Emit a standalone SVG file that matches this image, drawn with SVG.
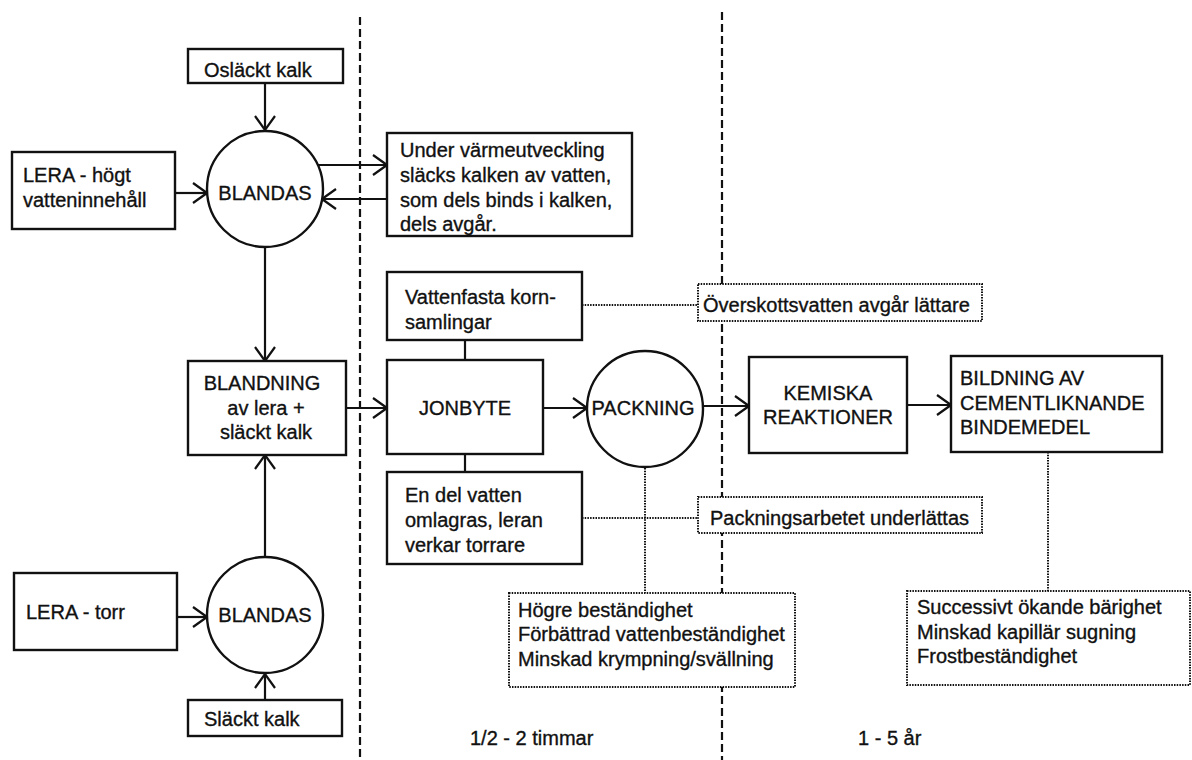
<svg xmlns="http://www.w3.org/2000/svg" width="1192" height="760" viewBox="0 0 1192 760">
<style>
text{font-family:"Liberation Sans",Arial,sans-serif;font-size:20px;fill:#111;stroke:#111;stroke-width:0.35}
.box{fill:#fff;stroke:#111;stroke-width:2.4}
.dbox{fill:#fff;stroke:#111;stroke-width:2;stroke-dasharray:1.5 1.2}
.ln{fill:none;stroke:#111;stroke-width:2.2}
.arr{fill:none;stroke:#111;stroke-width:2.2;marker-end:url(#ah)}
.dot{fill:none;stroke:#111;stroke-width:2;stroke-dasharray:1.5 1.2}
.div{fill:none;stroke:#111;stroke-width:2.2;stroke-dasharray:8 4}
.c{text-anchor:middle}
</style>
<defs>
<marker id="ah" markerUnits="userSpaceOnUse" viewBox="0 0 16 22" refX="15" refY="11" markerWidth="16" markerHeight="22" orient="auto">
<path d="M1,1 L15,11 L1,21" fill="none" stroke="#111" stroke-width="2.2"/>
</marker>
</defs>
<rect width="1192" height="760" fill="#fff"/>
<g id="dividers">
<line class="div" x1="360" y1="17" x2="360" y2="760"/>
<line class="div" x1="722" y1="12" x2="722" y2="760"/>
</g>
<g id="connectors">
<line class="arr" x1="265" y1="83" x2="265" y2="130"/>
<line class="arr" x1="175" y1="193" x2="207" y2="193"/>
<line class="arr" x1="318" y1="165" x2="387" y2="165"/>
<line class="arr" x1="387" y1="199" x2="322" y2="199"/>
<line class="arr" x1="265" y1="247" x2="265" y2="361"/>
<line class="arr" x1="265" y1="556" x2="265" y2="455"/>
<line class="arr" x1="177" y1="617" x2="207" y2="617"/>
<line class="arr" x1="265" y1="700" x2="265" y2="674"/>
<line class="arr" x1="346" y1="408" x2="387" y2="408"/>
<line class="arr" x1="543" y1="408" x2="587" y2="408"/>
<line class="arr" x1="703" y1="406" x2="749" y2="406"/>
<line class="arr" x1="907" y1="405" x2="951" y2="405"/>
<line class="ln" x1="465" y1="340" x2="465" y2="360"/>
<line class="ln" x1="465" y1="454" x2="465" y2="472"/>
<line class="dot" x1="582" y1="305" x2="698" y2="305"/>
<line class="dot" x1="582" y1="518" x2="698" y2="518"/>
<line class="dot" x1="645" y1="468" x2="645" y2="593"/>
<line class="dot" x1="1048" y1="452" x2="1048" y2="591"/>
</g>
<g id="oslackt"><rect class="box" x="188" y="49" width="155" height="34"/><text x="204" y="77">Osläckt kalk</text></g>
<g id="lera-hogt"><rect class="box" x="12" y="152" width="163" height="77"/><text x="23" y="182">LERA - högt</text><text x="23" y="207">vatteninnehåll</text></g>
<g id="blandas1"><circle class="box" cx="265" cy="189" r="58"/><text class="c" x="265" y="200">BLANDAS</text></g>
<g id="under"><rect class="box" x="387" y="133" width="245" height="103"/><text x="400" y="157">Under värmeutveckling</text><text x="400" y="182">släcks kalken av vatten,</text><text x="400" y="207">som dels binds i kalken,</text><text x="400" y="231">dels avgår.</text></g>
<g id="vattenfasta"><rect class="box" x="387" y="272" width="195" height="68"/><text x="405" y="304">Vattenfasta korn-</text><text x="405" y="329">samlingar</text></g>
<g id="overskott"><rect class="dbox" x="698" y="284" width="284" height="37"/><text x="703" y="312">Överskottsvatten avgår lättare</text></g>
<g id="blandning"><rect class="box" x="188" y="361" width="158" height="94"/><text class="c" x="262" y="390">BLANDNING</text><text class="c" x="266" y="415">av lera +</text><text class="c" x="266" y="439">släckt kalk</text></g>
<g id="jonbyte"><rect class="box" x="387" y="360" width="156" height="94"/><text class="c" x="465" y="415">JONBYTE</text></g>
<g id="packning"><circle class="box" cx="645" cy="409" r="58"/><text class="c" x="643" y="415">PACKNING</text></g>
<g id="kemiska"><rect class="box" x="749" y="357" width="158" height="96"/><text class="c" x="828" y="400">KEMISKA</text><text class="c" x="828" y="424">REAKTIONER</text></g>
<g id="bildning"><rect class="box" x="951" y="356" width="211" height="96"/><text x="960" y="385">BILDNING AV</text><text x="960" y="410">CEMENTLIKNANDE</text><text x="960" y="434">BINDEMEDEL</text></g>
<g id="endel"><rect class="box" x="387" y="472" width="195" height="92"/><text x="405" y="502">En del vatten</text><text x="405" y="527">omlagras, leran</text><text x="405" y="552">verkar torrare</text></g>
<g id="packningsarbetet"><rect class="dbox" x="698" y="497" width="284" height="36"/><text x="710" y="525">Packningsarbetet underlättas</text></g>
<g id="hogre"><rect class="dbox" x="509" y="593" width="286" height="94"/><text x="518" y="617">Högre beständighet</text><text x="518" y="641">Förbättrad vattenbeständighet</text><text x="518" y="666">Minskad krympning/svällning</text></g>
<g id="successivt"><rect class="dbox" x="907" y="591" width="283" height="94"/><text x="917" y="614">Successivt ökande bärighet</text><text x="917" y="639">Minskad kapillär sugning</text><text x="917" y="663">Frostbeständighet</text></g>
<g id="lera-torr"><rect class="box" x="14" y="573" width="163" height="77"/><text x="26" y="619">LERA - torr</text></g>
<g id="blandas2"><circle class="box" cx="265" cy="615" r="58"/><text class="c" x="265" y="622">BLANDAS</text></g>
<g id="slackt"><rect class="box" x="188" y="700" width="154" height="36"/><text x="204" y="726">Släckt kalk</text></g>
<g id="timelabels"><text x="470" y="745">1/2 - 2 timmar</text><text x="858" y="745">1 - 5 år</text></g>
</svg>
